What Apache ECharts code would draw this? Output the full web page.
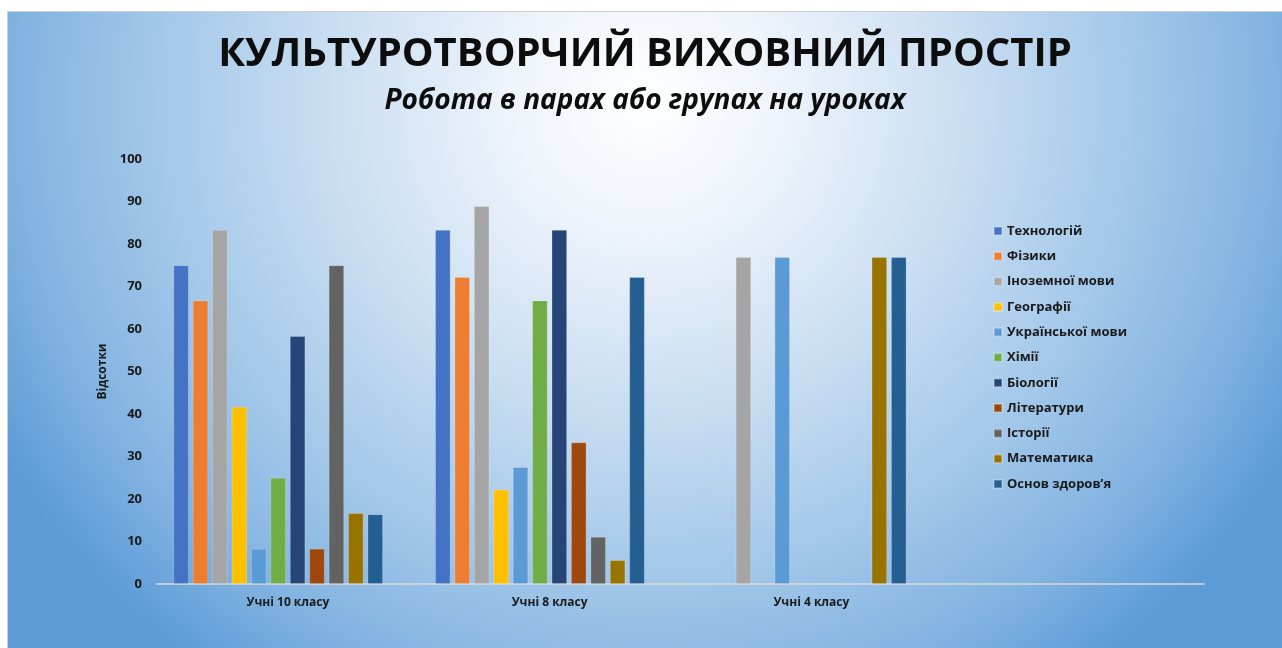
<!DOCTYPE html>
<html>
<head>
<meta charset="utf-8">
<script src="https://cdn.jsdelivr.net/npm/echarts@6/dist/echarts.min.js"></script>
<style>
  html, body { margin: 0; padding: 0; background: #ffffff; width: 1282px; height: 648px; overflow: hidden; }
  #wrap {
    position: absolute; left: 7px; top: 11px; width: 1275px; height: 637px;
    border-top: 1px solid #d0d0d0; border-left: 1px solid #c8cfd8;
    background: radial-gradient(ellipse 58% 112% at 50% 14%, #ffffff 0%, #eef4fb 18%, #c6dcf1 45%, #a0c6e9 68%, #82b3e1 85%, #5c9bd6 100%);
  }
  #chart { width: 1274px; height: 636px; }
</style>
</head>
<body>
<div id="wrap"><div id="chart"></div></div>
<script>
const categories = ['Учні 10 класу', 'Учні 8 класу', 'Учні 4 класу', ''];
const subjects = ['Технологій', 'Фізики', 'Іноземної мови', 'Географії', 'Української мови', 'Хімії', 'Біології', 'Літератури', 'Історії', 'Математика', 'Основ здоров’я'];
const technologyValues = [75, 83.3, null, null];
const physicsValues = [66.7, 72.2, null, null];
const foreignLangValues = [83.3, 88.9, 76.9, null];
const geographyValues = [41.7, 22.2, null, null];
const ukrainianValues = [8.3, 27.5, 76.9, null];
const chemistryValues = [25, 66.7, null, null];
const biologyValues = [58.3, 83.3, null, null];
const literatureValues = [8.3, 33.3, null, null];
const historyValues = [75, 11.1, null, null];
const mathValues = [16.7, 5.6, 76.9, null];
const healthValues = [16.4, 72.2, 76.9, null];
const emptySlotValues = [null, null, null, null];
const yTicks = { min: 0, max: 100, interval: 10 };

const seriesValues = [technologyValues, physicsValues, foreignLangValues, geographyValues, ukrainianValues,
  chemistryValues, biologyValues, literatureValues, historyValues, mathValues, healthValues];
const colors = ['#4472c4', '#ed7d31', '#a5a5a5', '#ffc000', '#5b9bd5', '#70ad47', '#264478', '#9e480e', '#636363', '#997300', '#255e91'];

const font = '"Open Sans", "Noto Sans", sans-serif';
const series = seriesValues.map((vals, i) => ({
  name: subjects[i],
  type: 'bar',
  data: vals,
  barCategoryGap: '12.5%',
  barGap: '26%',
  itemStyle: { color: colors[i], borderColor: 'rgba(255,255,255,0.25)', borderWidth: 0.8 }
}));
series.push({ name: '_empty', type: 'bar', data: emptySlotValues, itemStyle: { color: 'transparent' } });

const chart = echarts.init(document.getElementById('chart'), null, { renderer: 'canvas' });
chart.setOption({
  backgroundColor: 'transparent',
  animation: false,
  color: colors,
  title: [
    { text: 'КУЛЬТУРОТВОРЧИЙ ВИХОВНИЙ ПРОСТІР', left: 'center', top: 19, padding: 0,
      textStyle: { fontFamily: font, fontWeight: 'bold', fontSize: 40, lineHeight: 48, color: '#0d0d0d' } },
    { text: 'Робота в парах або групах на уроках', left: 'center', top: 72, padding: 0,
      textStyle: { fontFamily: font, fontWeight: 'bold', fontStyle: 'italic', fontSize: 28, lineHeight: 34, color: '#0d0d0d' } }
  ],
  legend: {
    orient: 'vertical', left: 985, top: 211, padding: 0,
    data: subjects,
    itemWidth: 8, itemHeight: 8, itemGap: 9.3,
    icon: 'rect',
    textStyle: { fontFamily: font, fontWeight: 'bold', fontSize: 13, lineHeight: 16, color: '#1a1a1a' }
  },
  grid: { left: 149, top: 147, right: 78, bottom: 64, containLabel: false },
  xAxis: {
    type: 'category', data: categories,
    axisLine: { lineStyle: { color: '#d9d9d9', width: 1.5 } },
    axisTick: { show: false },
    axisLabel: { fontFamily: font, fontWeight: 'bold', fontSize: 12, color: '#1a1a1a', margin: 13 },
    splitLine: { show: false }
  },
  yAxis: {
    type: 'value', min: yTicks.min, max: yTicks.max, interval: yTicks.interval,
    name: 'Відсотки', nameLocation: 'middle', nameRotate: 90, nameGap: 45,
    nameTextStyle: { fontFamily: font, fontWeight: 'bold', fontSize: 12, color: '#1a1a1a' },
    axisLine: { show: false }, axisTick: { show: false },
    splitLine: { show: false },
    axisLabel: { fontFamily: font, fontWeight: 'bold', fontSize: 13, color: '#1a1a1a', margin: 15 }
  },
  series: series
});
</script>
</body>
</html>
